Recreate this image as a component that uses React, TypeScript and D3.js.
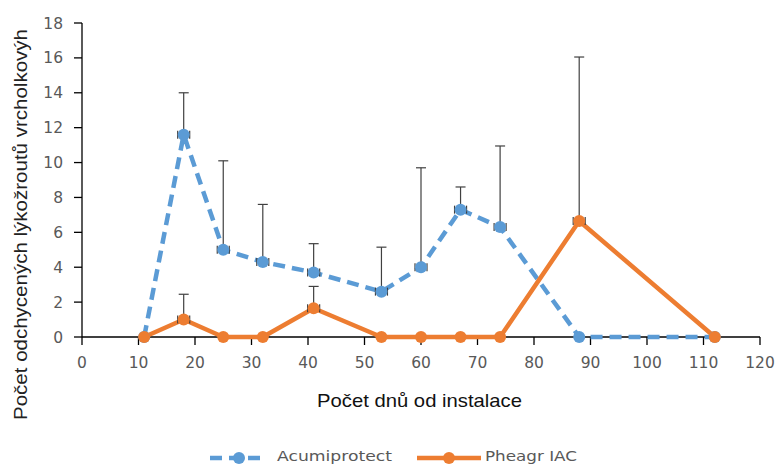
import React from "react";
import * as d3 from "d3";

const days = [11, 18, 25, 32, 41, 53, 60, 67, 74, 88, 112];
const acumiprotect = [0, 11.6, 5.0, 4.3, 3.7, 2.6, 4.0, 7.3, 6.3, 0, 0];
const acumiErr = [0, 2.4, 5.1, 3.3, 1.65, 2.55, 5.7, 1.3, 4.65, 0, 0];
const pheagr = [0, 1.0, 0, 0, 1.65, 0, 0, 0, 0, 6.65, 0];
const pheagrErr = [0, 1.45, 0, 0, 1.25, 0, 0, 0, 0, 9.4, 0];
const xTicks = [0, 10, 20, 30, 40, 50, 60, 70, 80, 90, 100, 110, 120];
const yTicks = [0, 2, 4, 6, 8, 10, 12, 14, 16, 18];
const seriesNames = ["Acumiprotect", "Pheagr IAC"];
const colors = ["#5B9BD5", "#ED7D31"];

export default function App() {
  const W = 777, H = 466;
  const x = d3.scaleLinear().domain([0, 120]).range([82, 760]);
  const y = d3.scaleLinear().domain([0, 18]).range([337, 23]);
  const line = d3.line<[number, number]>().x(d => x(d[0])).y(d => y(d[1]));
  const tickFont = "'DejaVu Sans', Verdana, sans-serif";
  const series = [
    { vals: acumiprotect, err: acumiErr, dash: "12,7" },
    { vals: pheagr, err: pheagrErr, dash: undefined as string | undefined },
  ];
  return (
    <svg width={W} height={H} style={{ position: "absolute", left: 0, top: 0, background: "#fff" }}
      fontFamily="'Liberation Sans', Arial, sans-serif">
      {/* y axis */}
      <line x1={x(0)} x2={x(0)} y1={y(0)} y2={y(18)} stroke="#000" strokeWidth={1.3} />
      {yTicks.map(t => (
        <g key={"y" + t}>
          <line x1={x(0) - 8} x2={x(0)} y1={y(t)} y2={y(t)} stroke="#000" strokeWidth={1.3} />
          <text x={63} y={y(t)} dy="0.36em" textAnchor="end" fontSize={15.5} fontFamily={tickFont} fill="#595959">{t}</text>
        </g>
      ))}
      {/* x axis */}
      <line x1={x(0)} x2={x(120)} y1={y(0)} y2={y(0)} stroke="#000" strokeWidth={1.3} />
      {xTicks.map(t => (
        <g key={"x" + t}>
          <line x1={x(t)} x2={x(t)} y1={y(0)} y2={y(0) + 8} stroke="#000" strokeWidth={1.3} />
          <text x={x(t)} y={368} textAnchor="middle" fontSize={15.5} fontFamily={tickFont} fill="#595959">{t}</text>
        </g>
      ))}
      <text x={419.5} y={407} textAnchor="middle" fontSize={18.5} fill="#111"
        textLength={205} lengthAdjust="spacingAndGlyphs">Počet dnů od instalace</text>
      <text transform={`translate(27, ${224.5}) rotate(-90)`} textAnchor="middle" fontSize={19} fill="#222"
        textLength={391} lengthAdjust="spacingAndGlyphs">
        Počet odchycených lýkožroutů vrcholkovýh
      </text>
      {/* lines */}
      {series.map((s, i) => (
        <path key={"l" + i} d={line(days.map((d, j) => [d, s.vals[j]]) as [number, number][]) || ""}
          fill="none" stroke={colors[i]} strokeWidth={4.5} strokeDasharray={s.dash} strokeLinejoin="round" />
      ))}
      {/* error bars */}
      {series.map((s, i) => days.map((d, j) => (
        <g key={"e" + i + "-" + j} stroke="#404040" strokeWidth={1.2}>
          {s.err[j] > 0 && (
            <>
              <line x1={x(d)} x2={x(d)} y1={y(s.vals[j])} y2={y(s.vals[j] + s.err[j])} />
              <line x1={x(d) - 5} x2={x(d) + 5} y1={y(s.vals[j] + s.err[j])} y2={y(s.vals[j] + s.err[j])} />
            </>
          )}
        </g>
      )))}
      {/* markers */}
      {series.map((s, i) => days.map((d, j) => (
        <g key={"m" + i + "-" + j}>
          {s.err[j] > 0 && (
            <g stroke="#404040" strokeWidth={1.2}>
              <line x1={x(d) - 6} x2={x(d) - 6} y1={y(s.vals[j]) - 4} y2={y(s.vals[j]) + 4} />
              <line x1={x(d) + 6} x2={x(d) + 6} y1={y(s.vals[j]) - 4} y2={y(s.vals[j]) + 4} />
            </g>
          )}
          <circle cx={x(d)} cy={y(s.vals[j])} r={6} fill={colors[i]} />
        </g>
      )))}
      {/* legend */}
      <g fontFamily={tickFont}>
        <line x1={210} x2={265} y1={458} y2={458} stroke={colors[0]} strokeWidth={4.5} strokeDasharray="12,7" />
        <circle cx={239} cy={458} r={6} fill={colors[0]} />
        <text x={277} y={461} fontSize={14} fill="#595959" textLength={115} lengthAdjust="spacingAndGlyphs">{seriesNames[0]}</text>
        <line x1={417} x2={481} y1={458} y2={458} stroke={colors[1]} strokeWidth={4.5} />
        <circle cx={449} cy={458} r={6} fill={colors[1]} />
        <text x={485} y={461} fontSize={14} fill="#595959" textLength={92} lengthAdjust="spacingAndGlyphs">{seriesNames[1]}</text>
      </g>
    </svg>
  );
}
